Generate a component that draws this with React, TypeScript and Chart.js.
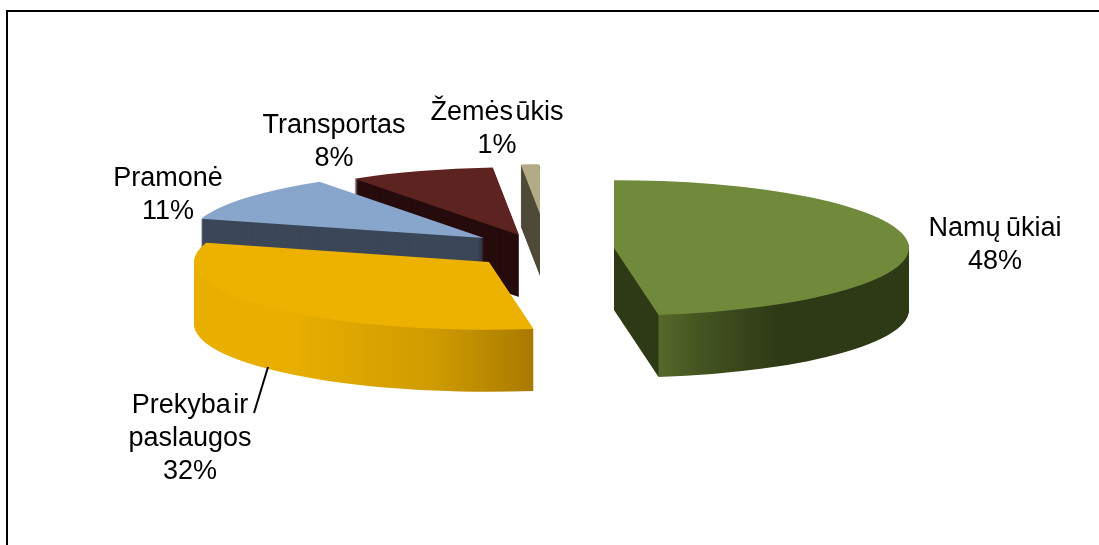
import React, { useEffect, useRef } from "react";
import { Chart, registerables } from "chart.js";

Chart.register(...registerables);

// Energy use by sector, in percent, clockwise from just before twelve o'clock.
const categories = ["Namų ūkiai", "Prekyba ir paslaugos", "Pramonė", "Transportas", "Žemės ūkis"];
const shares = [48, 32, 11, 8, 1];

// Wrapped text of each category label.
const labelLines = [["Namų ūkiai"], ["Prekyba ir", "paslaugos"], ["Pramonė"], ["Transportas"], ["Žemės ūkis"]];

const topColors = ["#70893a", "#edb200", "#88a5cc", "#5d2320", "#b2ab85"];
const wallColors = ["#2e3916", "#edb200", "#3b4757", "#260c0c", "#4f4c3a"];

// How far each exploded wedge sits from the middle of the canvas.
const explodeX = [64.5, -60.5, -65.5, -30.5, -2.5];
const explodeY = [-24.5, -10.5, -34.5, -37.5, -40.5];

// Side cut-offs of the two wedges whose edges stand vertically.
const clipLeft = [614, 0, 0, 0, 0];
const clipRight = [1099, 1099, 1099, 1099, 540];

const labelCenterX = [995, 190, 168, 334, 497];
const labelBaselineY = [236, 413, 186, 133, 120];
const labelWordSpacing = [-2, -5, -5, -5, -5];

const PIE_ROTATION = -1.5;
const PIE_RADIUS = 295;
const TILT = 0.23;
const DEPTH = 62;
const LINE_HEIGHT = 33;
const PAINT_ORDER = [4, 3, 2, 1, 0];

function wallFill(ctx: CanvasRenderingContext2D, index: number): string | CanvasGradient {
  if (index === 0) {
    const left = 640 - explodeX[0];
    const g = ctx.createLinearGradient(left, 0, left + 268, 0);
    g.addColorStop(0, "#2e3916");
    g.addColorStop(0.067, "#2e3916");
    g.addColorStop(0.071, "#56692b");
    g.addColorStop(0.224, "#445421");
    g.addColorStop(0.52, "#2e3916");
    g.addColorStop(1, "#2e3916");
    return g;
  }
  if (index === 1) {
    const left = 137 - explodeX[1];
    const g = ctx.createLinearGradient(left, 0, left + 396, 0);
    g.addColorStop(0, "#e8ae00");
    g.addColorStop(0.4, "#e8ae00");
    g.addColorStop(0.75, "#cf9b00");
    g.addColorStop(1, "#a97a00");
    return g;
  }
  return wallColors[index];
}

// Paints the pie as a tilted, extruded disc out of the library's own arc elements.
const tiltedPie = {
  id: "tiltedPie",
  beforeDatasetDraw(chart: any) {
    const ctx: CanvasRenderingContext2D = chart.ctx;
    const arcs = chart.getDatasetMeta(0).data;
    for (const i of PAINT_ORDER) {
      const arc = arcs[i];
      const paint = (drop: number, fill: string | CanvasGradient) => {
        const layer = Object.create(arc);
        layer.options = { ...arc.options, backgroundColor: fill };
        ctx.save();
        ctx.translate(explodeX[i], explodeY[i] + drop + arc.y);
        ctx.scale(1, TILT);
        ctx.translate(0, -arc.y);
        arc.draw.call(layer, ctx);
        ctx.restore();
      };
      ctx.save();
      ctx.beginPath();
      ctx.rect(clipLeft[i], 0, clipRight[i] - clipLeft[i], chart.height);
      ctx.clip();
      const wall = wallFill(ctx, i);
      for (let d = DEPTH; d > 0; d--) paint(d, wall);
      paint(0, topColors[i]);
      ctx.restore();
    }
    return false;
  },
  afterDraw(chart: any) {
    const ctx: CanvasRenderingContext2D = chart.ctx;
    ctx.save();
    // Frame: top and left edges run off the canvas.
    ctx.strokeStyle = "#000";
    ctx.lineWidth = 2;
    ctx.beginPath();
    ctx.moveTo(7, 545);
    ctx.lineTo(7, 11);
    ctx.lineTo(1099, 11);
    ctx.stroke();
    // Leader line of the trade and services label.
    ctx.beginPath();
    ctx.moveTo(268, 367);
    ctx.lineTo(254, 413);
    ctx.stroke();

    ctx.fillStyle = "#000";
    ctx.font = '27px "Liberation Sans"';
    ctx.textAlign = "center";
    shares.forEach((share, i) => {
      (ctx as any).wordSpacing = `${labelWordSpacing[i]}px`;
      const lines = [...labelLines[i], `${share}%`];
      lines.forEach((line, n) => {
        ctx.fillText(line, labelCenterX[i], labelBaselineY[i] + n * LINE_HEIGHT);
      });
    });
    ctx.restore();
  },
};

export default function App() {
  const ref = useRef<HTMLCanvasElement>(null);
  useEffect(() => {
    if (!ref.current) return;
    const chart = new Chart(ref.current, {
      type: "pie",
      data: {
        labels: categories,
        datasets: [{ data: shares, backgroundColor: topColors, borderWidth: 0 }],
      },
      options: {
        animation: false,
        responsive: false,
        rotation: PIE_ROTATION,
        radius: PIE_RADIUS,
        layout: { padding: 0 },
        plugins: { legend: { display: false }, tooltip: { enabled: false } },
      } as any,
      plugins: [tiltedPie],
    });
    return () => chart.destroy();
  }, []);
  return (
    <canvas
      ref={ref}
      width={1099}
      height={545}
      style={{ position: "fixed", left: 0, top: 0, width: 1099, height: 545, background: "#fff" }}
    />
  );
}
